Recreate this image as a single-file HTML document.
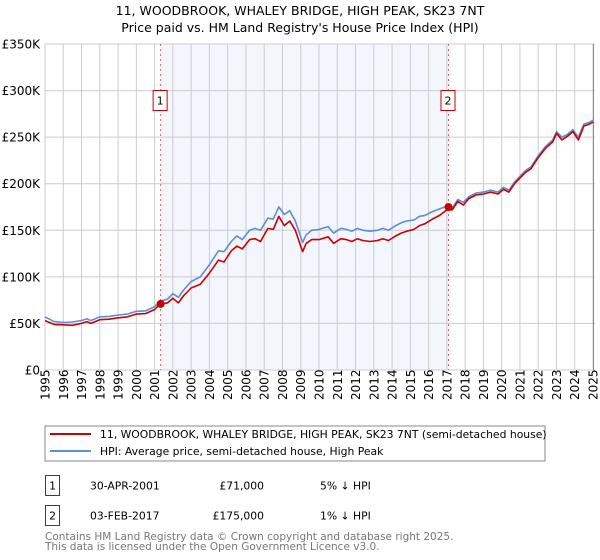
<!DOCTYPE html>
<html><head><meta charset="utf-8"><style>
html,body{margin:0;padding:0;background:#fff;width:600px;height:560px;overflow:hidden;font-family:"DejaVu Sans","Liberation Sans",sans-serif;}
svg{display:block}
</style></head><body>
<svg id="c" width="600" height="560" xmlns="http://www.w3.org/2000/svg" font-family="DejaVu Sans, Liberation Sans, sans-serif">
<text x="300" y="15" text-anchor="middle" font-size="12.5" fill="#000">11, WOODBROOK, WHALEY BRIDGE, HIGH PEAK, SK23 7NT</text>
<text x="300" y="32" text-anchor="middle" font-size="12.5" fill="#000">Price paid vs. HM Land Registry's House Price Index (HPI)</text>
<g id="plot"></g>
<rect x="45" y="426" width="500" height="35" fill="#fff" stroke="#888"/>
<line x1="50" y1="434" x2="91" y2="434" stroke="#cc0000" stroke-width="2"/>
<text x="100" y="438" font-size="10.8">11, WOODBROOK, WHALEY BRIDGE, HIGH PEAK, SK23 7NT (semi-detached house)</text>
<line x1="50" y1="451" x2="91" y2="451" stroke="#5b8fd6" stroke-width="2"/>
<text x="100" y="455" font-size="10.8">HPI: Average price, semi-detached house, High Peak</text>
<g font-size="10.8">
<rect x="45.5" y="475.5" width="14" height="20" fill="#fff" stroke="#cc0000"/>
<text x="52.5" y="489.5" text-anchor="middle">1</text>
<text x="90" y="489.5">30-APR-2001</text>
<text x="264" y="489.5" text-anchor="end">£71,000</text>
<text x="320" y="489.5">5% ↓ HPI</text>
</g>
<g font-size="10.8">
<rect x="45.5" y="505.5" width="14" height="20" fill="#fff" stroke="#cc0000"/>
<text x="52.5" y="519.5" text-anchor="middle">2</text>
<text x="90" y="519.5">03-FEB-2017</text>
<text x="264" y="519.5" text-anchor="end">£175,000</text>
<text x="320" y="519.5">1% ↓ HPI</text>
</g>
<text x="45" y="540" font-size="10.5" fill="#777">Contains HM Land Registry data © Crown copyright and database right 2025.</text>
<text x="45" y="550" font-size="10.5" fill="#777">This data is licensed under the Open Government Licence v3.0.</text>
</svg>
<script>
const yTicks=[0,50000,100000,150000,200000,250000,300000,350000];
const yTickLabels=["£0","£50K","£100K","£150K","£200K","£250K","£300K","£350K"];
const xYears=[1995,1996,1997,1998,1999,2000,2001,2002,2003,2004,2005,2006,2007,2008,2009,2010,2011,2012,2013,2014,2015,2016,2017,2018,2019,2020,2021,2022,2023,2024,2025];
const hpiDates=[1995.0,1995.5,1996.0,1996.5,1997.0,1997.3,1997.5,1998.0,1998.5,1999.0,1999.5,2000.0,2000.5,2001.0,2001.3,2001.7,2002.0,2002.3,2002.6,2003.0,2003.5,2004.0,2004.5,2004.8,2005.2,2005.5,2005.8,2006.2,2006.5,2006.8,2007.2,2007.5,2007.8,2008.1,2008.4,2008.7,2009.0,2009.1,2009.3,2009.6,2010.0,2010.5,2010.8,2011.2,2011.5,2011.8,2012.1,2012.4,2012.8,2013.2,2013.5,2013.8,2014.2,2014.5,2014.8,2015.2,2015.5,2015.8,2016.2,2016.6,2017.0,2017.3,2017.6,2017.9,2018.2,2018.6,2019.0,2019.4,2019.8,2020.1,2020.4,2020.7,2021.0,2021.3,2021.6,2022.0,2022.4,2022.8,2023.0,2023.3,2023.6,2023.9,2024.2,2024.5,2024.8,2025.0];
const hpiValues=[57000,52000,51000,51500,53000,55000,53000,57000,57500,59000,60000,63000,63500,68000,74000,76000,82000,78000,86000,95000,100000,113000,128000,127000,138000,144000,140000,150000,152000,150000,163000,162000,175000,167000,171000,160000,143000,137000,145000,150000,151000,154000,147000,152000,151000,149000,152000,150000,149000,150000,152000,150000,155000,158000,160000,161000,165000,166000,170000,173000,176000,174000,183000,180000,186000,190000,191000,193000,191000,196000,193000,202000,208000,214000,218000,230000,240000,247000,256000,250000,253000,258000,250000,264000,266000,268000];
const priceDates=hpiDates;
const priceValues=[53000,49000,48500,48000,50000,52000,50000,54000,54500,56000,57000,60000,60500,65000,71000,72000,77000,72000,80000,88000,92000,104000,118000,116000,128000,133000,130000,140000,141000,138000,152000,151000,165000,155000,160000,150000,133000,127000,136000,140000,140000,143000,136000,141000,140000,138000,141000,139000,138000,139000,141000,139000,144000,147000,149000,151000,155000,157000,162000,166000,172000,172000,181000,177000,184000,188000,189000,191000,189000,194000,191000,200000,206000,212000,216000,228000,238000,245000,254000,247000,251000,256000,247000,262000,264000,266000];
const saleDates=[2001.33,2017.09];
const salePrices=[71000,175000];
const saleLabels=["1","2"];

const X0=45,X1=593,Y0=370,Y1=44;
const xs=d=>X0+(d-1995)/(2025-1995)*(X1-X0);
const ys=v=>Y0-v/350000*(Y0-Y1);
const NS="http://www.w3.org/2000/svg";
const g=document.getElementById('plot');
function mk(t,a,p){const e=document.createElementNS(NS,t);for(const k in a)e.setAttribute(k,a[k]);(p||g).appendChild(e);return e;}
let e;
e=mk('rect',{x:xs(saleDates[0]),y:Y1,width:xs(saleDates[1])-xs(saleDates[0]),height:Y0-Y1,fill:'#f3f6fd'});


yTicks.forEach((v,i)=>{
 e=mk('line',{x1:X0,x2:595,y1:ys(v),y2:ys(v),stroke:'#cccccc','stroke-width':1});
 
 
 e=mk('text',{x:40,y:ys(v)+4.5,'text-anchor':'end','font-size':12});
 e.textContent=yTickLabels[i];
 
 
});
xYears.forEach(yr=>{
 e=mk('line',{x1:xs(yr),x2:xs(yr),y1:Y1,y2:Y0,stroke:'#cccccc','stroke-width':1});
 
 
 e=mk('text',{x:0,y:0,'font-size':12,transform:`translate(${xs(yr)+4.5},${Y0+30}) rotate(-90)`});
 e.textContent=yr;
 
 
});
e=mk('line',{x1:593.5,x2:593.5,y1:Y1,y2:Y0,stroke:'#888','stroke-width':1});


saleDates.forEach((d,i)=>{
 e=mk('line',{x1:xs(d),x2:xs(d),y1:Y1,y2:Y0,stroke:'#e06060','stroke-width':1,'stroke-dasharray':'2,3'});
 
 
});
function path(ds,vs,col,name){
 const d=ds.map((t,i)=>(i?'L':'M')+xs(t).toFixed(1)+','+ys(vs[i]).toFixed(1)).join('');
 const p=mk('path',{d:d,fill:'none',stroke:col,'stroke-width':1.6,'stroke-linejoin':'round'});
 
 
}
path(hpiDates,hpiValues,'#5b8fd6','hpi-line');
path(priceDates,priceValues,'#cc0000','price-paid-line');
saleDates.forEach((d,i)=>{
 e=mk('circle',{cx:xs(d),cy:ys(salePrices[i]),r:4,fill:'#cc0000'});
 
 
 const bx=xs(d)-8;
 e=mk('rect',{x:bx+0.5,y:90.5,width:14,height:20,fill:'#fff',stroke:'#cc0000'});
 
 
 e=mk('text',{x:bx+7.5,y:104.5,'text-anchor':'middle','font-size':11});
 e.textContent=saleLabels[i];
 
 
});
</script>
</body></html>
